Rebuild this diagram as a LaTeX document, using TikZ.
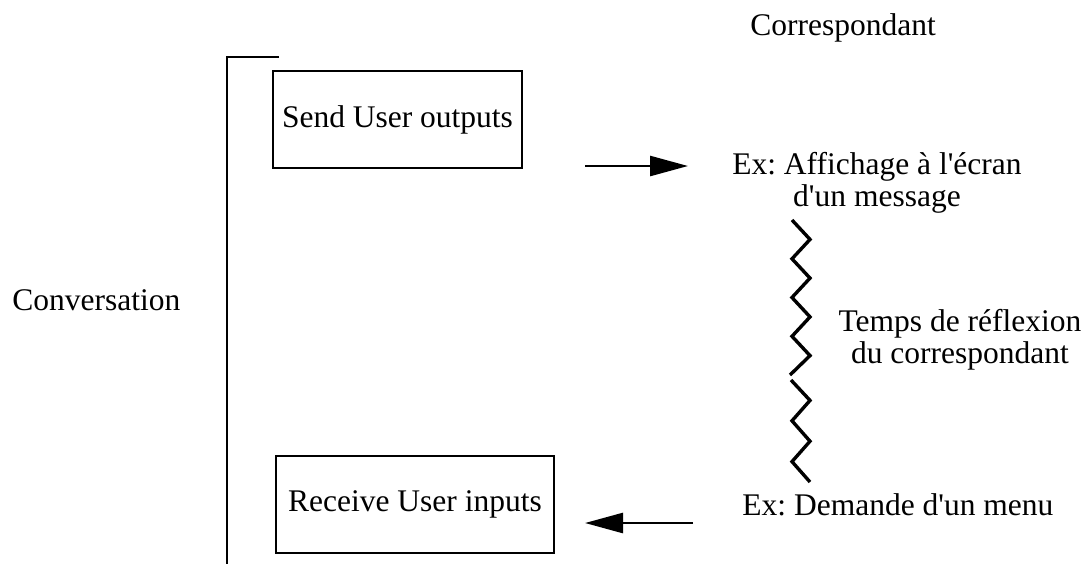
\documentclass[tikz,border=0pt]{standalone}
\usepackage{fontspec}
\setmainfont{Liberation Serif}
\usetikzlibrary{arrows.meta}
\frenchspacing

\begin{document}
\begin{tikzpicture}[x=0.5pt, y=-0.5pt,
  txt/.style={inner sep=0pt, font=\fontsize{15.75}{16}\selectfont},
  box/.style={txt, draw, line width=1pt, minimum height=48.5pt},
  flow/.style={line width=1.3pt, -{Triangle[length=19pt,width=10pt]}},
  wiggle/.style={line width=1.7pt, line join=miter}]
  \useasboundingbox (0,0) rectangle (1088,564);

  % left side
  \node[txt, anchor=base west] (conv) at (12,310) {Conversation};
  \coordinate (brtop) at (279,57);
  \coordinate (brcorner) at (227,57);
  \coordinate (brbot) at (227,564);
  \draw[line width=1pt] (brtop) -- (brcorner) -- (brbot);
  \node[box, minimum width=124.5pt] (send) at (397.5,119.5) {Send User outputs};
  \node[box, minimum width=139pt] (recv) at (415,504.5) {Receive User inputs};

  % right side
  \node[txt, anchor=base west] (corr) at (750,35) {Correspondant};
  \node[txt, align=center, anchor=north] (affich) at (877,152)
    {Ex: Affichage à l\textquotesingle écran\\d\textquotesingle un message};
  \node[txt, align=center, anchor=north] (temps) at (960,308.5)
    {Temps de réflexion\\du correspondant};
  \node[txt, anchor=base west] (menu) at (742,515) {Ex: Demande d\textquotesingle un menu};

  % arrows
  \coordinate (outA) at (585,166);
  \coordinate (outB) at (688,166);
  \draw[flow] (outA) -- (outB);
  \coordinate (inA) at (693,523);
  \coordinate (inB) at (585,523);
  \draw[flow] (inA) -- (inB);

  % waiting time
  \draw[wiggle] (792,220) -- (810,239.4) -- (792,258.8) -- (810,278.1) -- (792,297.5)
    -- (810,316.9) -- (792,336.3) -- (810,355.6) -- (790,375);
  \draw[wiggle] (791,380) -- (810,400.4) -- (792,420.8) -- (810,441.2) -- (792,461.6)
    -- (810,482);
\end{tikzpicture}
\end{document}
